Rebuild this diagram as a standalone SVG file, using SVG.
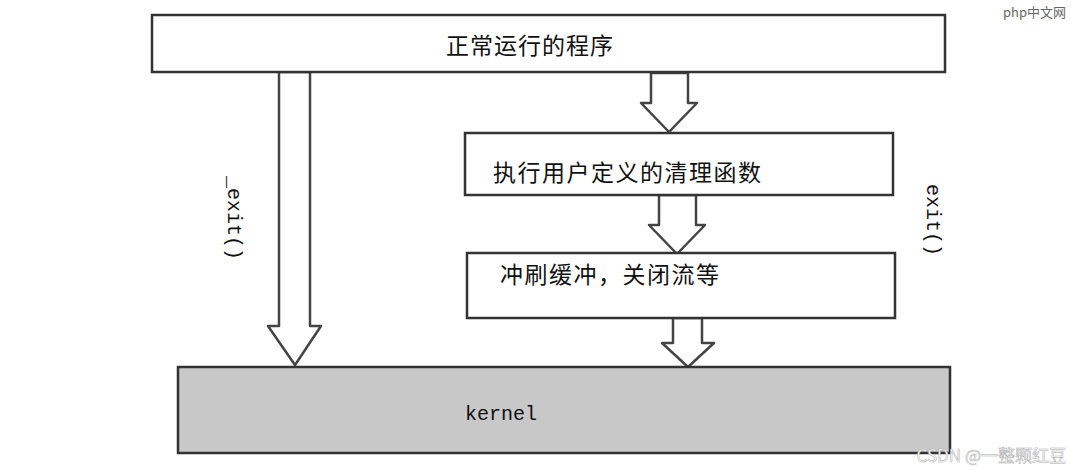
<svg xmlns="http://www.w3.org/2000/svg" width="1071" height="471" viewBox="0 0 1071 471">
<style>
.box{fill:#fff;stroke:#333;stroke-width:2.5}
.arr{fill:#fff;stroke:#444;stroke-width:2.5;stroke-linejoin:round}
.cn{font-family:"Noto Sans CJK SC",sans-serif;font-size:23px;fill:#111}
.mono{font-family:"Liberation Mono",monospace;font-size:20px;fill:#111}
</style>
<rect width="1071" height="471" fill="#fff"/>
<g id="connectors">
<path class="arr" d="M279 72 H310 V326 H321 L295 365 L268 326 H279 Z"/>
<path class="arr" d="M651 73 H688 V103 H697 L669 132 L641 103 H651 Z"/>
<path class="arr" d="M659 195 H696 V225 H705 L677 254 L649 225 H659 Z"/>
<path class="arr" d="M673 318 H702 V343 H714 L688 367 L662 343 H673 Z"/>
<text class="mono" transform="translate(228 176) rotate(90)">_exit()</text>
<text class="mono" transform="translate(927 184) rotate(90)">exit()</text>
</g>
<g id="n1"><rect class="box" x="152" y="15" width="793" height="57"/><text class="cn" x="530" y="54" text-anchor="middle" letter-spacing="1">正常运行的程序</text></g>
<g id="n2"><rect class="box" x="465" y="133" width="428" height="62"/><text class="cn" x="493" y="181" letter-spacing="1.5">执行用户定义的清理函数</text></g>
<g id="n3"><rect class="box" x="467" y="253" width="428" height="65"/><text class="cn" x="500" y="283" letter-spacing="1.5">冲刷缓冲，关闭流等</text></g>
<g id="kernel"><rect x="178" y="367" width="772" height="86" fill="#c8c8c8" stroke="#333" stroke-width="2.5"/><text class="mono" x="465" y="420">kernel</text></g>
<text x="1066" y="462" text-anchor="end" font-family="Noto Sans CJK SC,sans-serif" font-size="17" fill="#fff" stroke="#aaa" stroke-width="0.5">CSDN @一整颗红豆</text>
<text x="1066" y="17" text-anchor="end" font-family="Noto Sans CJK SC,sans-serif" font-size="13" fill="#666">php中文网</text>
</svg>
